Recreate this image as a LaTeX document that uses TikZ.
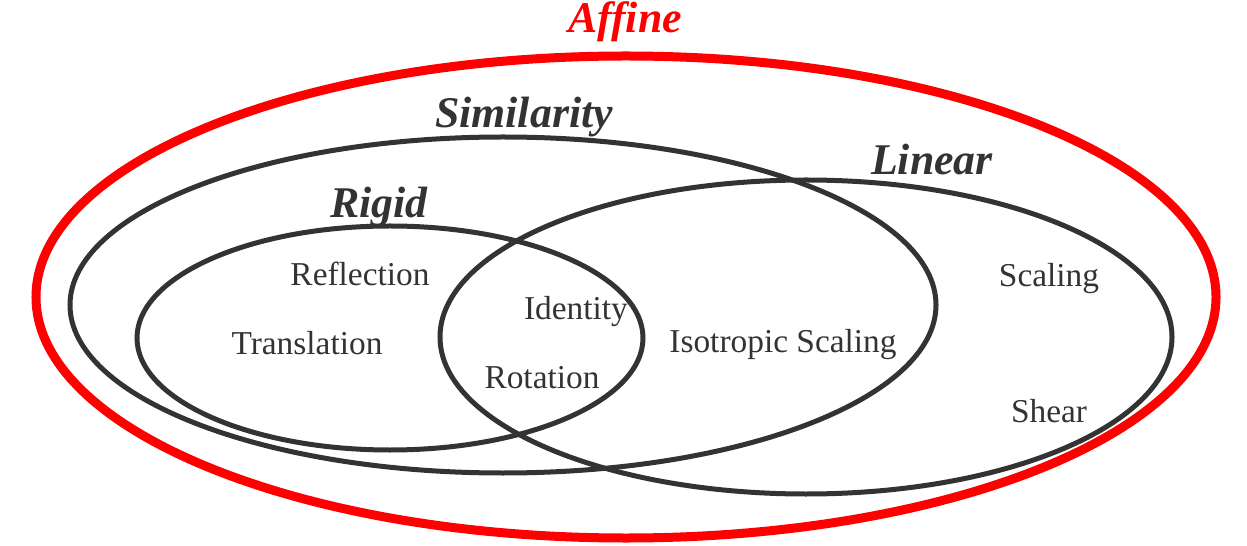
\documentclass[tikz,border=0pt]{standalone}
\usepackage{fontspec}
\setmainfont{Liberation Serif}
\definecolor{ink}{HTML}{333333}
\definecolor{affred}{HTML}{FF0000}
\begin{document}
\begin{tikzpicture}[x=1bp,y=-1bp,
  setline/.style={draw=ink,line width=5bp},
  affline/.style={draw=affred,line width=9bp},
  settitle/.style={anchor=base,inner sep=0pt,text=ink,font=\fontsize{44}{48}\selectfont\bfseries\itshape},
  afftitle/.style={anchor=base,inner sep=0pt,text=affred,font=\fontsize{44}{48}\selectfont\bfseries\itshape},
  item/.style={anchor=base,inner sep=0pt,text=ink,font=\fontsize{33.5}{38}\selectfont}]
\useasboundingbox (0,0) rectangle (1247,546);
% sets
\draw[affline] (626,297) ellipse [x radius=590bp, y radius=241bp];
\draw[setline] (503,305) ellipse [x radius=433bp, y radius=168bp];
\draw[setline] (390,338) ellipse [x radius=253bp, y radius=112bp];
\draw[setline] (806,337) ellipse [x radius=366bp, y radius=157bp];
% titles
\node[afftitle] (affine) at (625,33) {Affine};
\node[settitle] (similarity) at (524,128) {Similarity};
\node[settitle] (linear) at (932,175) {Linear};
\node[settitle] (rigid) at (379,218) {Rigid};
% members
\node[item] (reflection) at (360,286) {Reflection};
\node[item] (translation) at (307,355) {Translation};
\node[item] (identity) at (576,320) {Identity};
\node[item] (rotation) at (542,388) {Rotation};
\node[item] (isotropic) at (783,353) {Isotropic Scaling};
\node[item] (scaling) at (1049,287) {Scaling};
\node[item] (shear) at (1049,422) {Shear};
\end{tikzpicture}
\end{document}
